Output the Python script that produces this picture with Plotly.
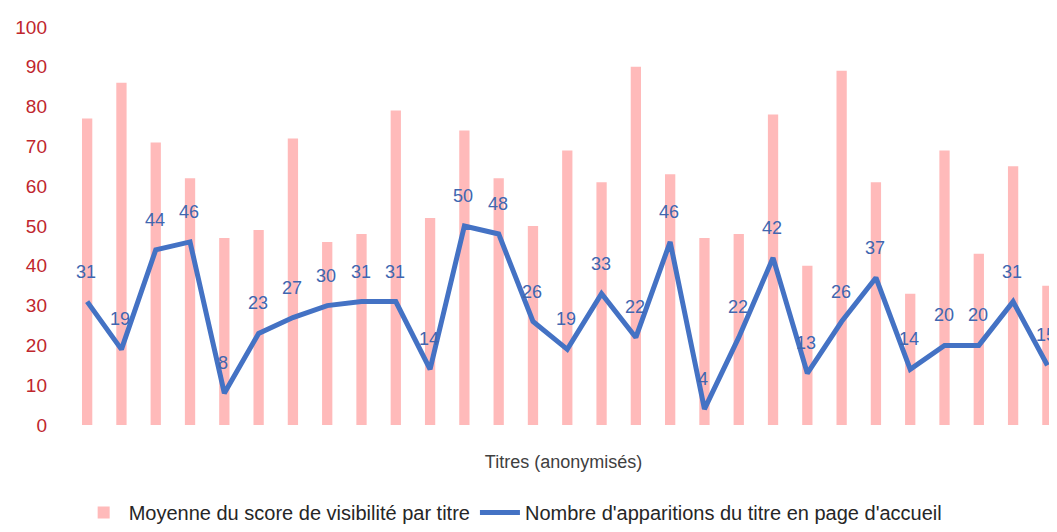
import plotly.graph_objects as go

categories = [f"T{i+1}" for i in range(29)]
visibilite = [77, 86, 71, 62, 47, 49, 72, 46, 48, 79, 52, 74, 62, 50, 69, 61, 90, 63,
              47, 48, 78, 40, 89, 61, 33, 69, 43, 65, 35]
apparitions = [31, 19, 44, 46, 8, 23, 27, 30, 31, 31, 14, 50, 48, 26, 19, 33, 22, 46,
               4, 22, 42, 13, 26, 37, 14, 20, 20, 31, 15]
y_ticks = [0, 10, 20, 30, 40, 50, 60, 70, 80, 90, 100]

FONT = "Liberation Sans Narrow, Liberation Sans, Arial, sans-serif"
BLUE = "#4472C4"
LABEL_BLUE = "#4066B0"

fig = go.Figure()
fig.add_trace(go.Bar(
    x=list(range(len(categories))), y=visibilite,
    name="Moyenne du score de visibilité par titre",
    marker=dict(color="#FFBABA", line=dict(width=0)),
    width=0.3,
))
fig.add_trace(go.Scatter(
    x=list(range(len(categories))), y=apparitions,
    name="Nombre d'apparitions du titre en page d'accueil",
    mode="lines",
    line=dict(color=BLUE, width=5),
))

annotations = []
for i, v in enumerate(apparitions):
    annotations.append(dict(
        x=i, y=v, text=str(v), showarrow=False, yshift=30, xshift=-1,
        font=dict(family=FONT, size=18, color=LABEL_BLUE),
    ))

fig.update_layout(
    width=1049, height=524,
    margin=dict(l=62, r=0, t=19, b=100),
    paper_bgcolor="white", plot_bgcolor="white",
    font=dict(family=FONT),
    showlegend=True,
    legend=dict(orientation="h", x=0.449, xanchor="center", y=-0.22, yanchor="middle",
                font=dict(family=FONT, size=20, color="#262626"),
                itemwidth=40, traceorder="normal"),
    annotations=annotations,
    xaxis=dict(range=[-0.5, 28.28], showticklabels=False, showgrid=False, zeroline=False,
               showline=False, ticks="", automargin=False,
               title=dict(text="Titres (anonymisés)", standoff=30,
                          font=dict(family=FONT, size=18, color="#404040"))),
    yaxis=dict(range=[0, 100], tickvals=y_ticks, showgrid=False, zeroline=False,
               showline=False, ticks="", ticklabelstandoff=22, automargin=False,
               tickfont=dict(family=FONT, size=19, color="#C0262D")),
)

fig.write_html("out.html")
